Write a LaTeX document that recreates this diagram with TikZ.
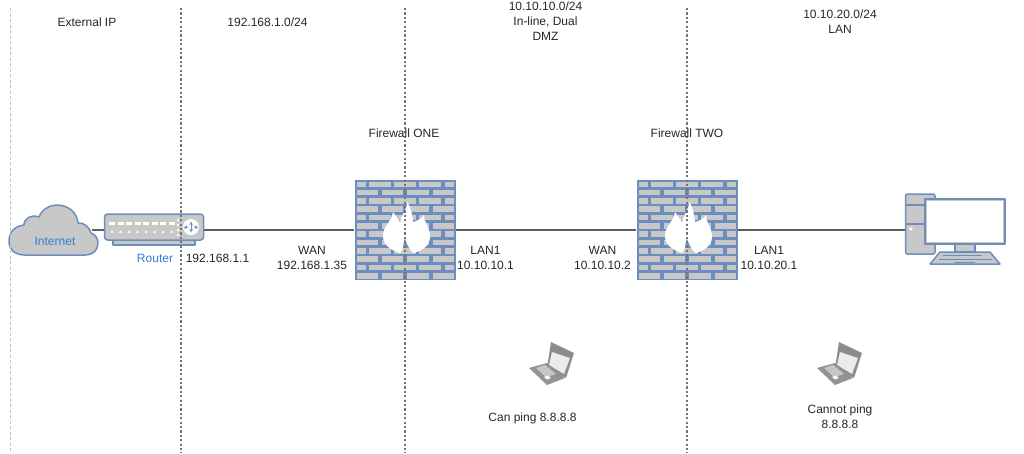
\documentclass[tikz,border=0pt]{standalone}
\usepackage{fontspec}
\setmainfont{Liberation Sans}
\definecolor{devblue}{HTML}{6C8EBF}
\definecolor{devgray}{HTML}{C8C8C8}
\definecolor{linkgray}{HTML}{5F5F5F}
\definecolor{labelblue}{HTML}{2F7FD6}
\tikzset{
  dev/.style={inner sep=0pt,outer sep=0pt},
  link/.style={draw=linkgray,line width=1.1pt},
  zone/.style={draw=black!55,line width=1.2pt,dash pattern=on 2.2pt off 2.2pt},
  label/.style={font=\fontsize{12}{15}\selectfont,align=center,text=black!85,inner sep=0pt},
  shell/.style={draw=devblue,fill=devgray,line width=1.5pt,line join=round},
  firewallpic/.pic={
    \fill[devblue] (-50,-50) rectangle (51,50);
    \foreach \r in {0,2,...,10} {
      \pgfmathsetmacro{\ya}{-48.5+\r*8.33}
      \foreach \xa/\xb in {-48/-39,-36/-14,-11/11,14/36,40/49}
        \fill[devgray] (\xa,\ya) rectangle (\xb,\ya+5.5);
      \pgfmathsetmacro{\yb}{\ya+8.33}
      \foreach \xa/\xb in {-48/-27,-23/-2,2/24,28/49}
        \fill[devgray] (\xa,\yb) rectangle (\xb,\yb+5.5);
    }
    \fill[white] (0,8) .. controls (-1,13) and (-1,18) .. (-4,23)
      .. controls (-15,20) and (-21.5,14) .. (-21.5,6)
      .. controls (-21.5,-4) and (-13,-8) .. (-11.5,-18)
      .. controls (-9,-14) and (-6,-11) .. (-4.5,-8)
      .. controls (-3,-15) and (2,-20) .. (3,-28)
      .. controls (7,-20) and (8,-14) .. (8.5,-8)
      .. controls (12,-9) and (17,-11) .. (19.5,-15)
      .. controls (19,-8) and (25.5,-3) .. (25.5,7)
      .. controls (25.5,15) and (18,21) .. (9,23)
      .. controls (3,18) and (3,13) .. (0,8) -- cycle;
  },
  laptoppic/.pic={
    \fill[gray!90] (0,-23) -- (23,-12) -- (15,13) -- (-4,3) -- cycle;
    \fill[black!8] (1,-13) -- (19,-7) -- (13,9) -- (-2,0) -- cycle;
    \fill[gray!85] (-22,3) -- (-4,-2) -- (14,13) -- (-4,20) -- cycle;
    \fill[gray!45] (-15,3) -- (-6,0) -- (5,9) -- (-5,12) -- cycle;
    \fill[white] (-7,12) -- (-3,10.5) -- (0,13) -- (-4,14.5) -- cycle;
  },
}
\begin{document}
\begin{tikzpicture}[x=1pt,y=-1pt]
  \useasboundingbox (0,0) rectangle (1024,453);
  % anchors of the devices
  \node[dev,minimum width=84,minimum height=50] (cloud) at (50,230) {};
  \node[dev,minimum width=100,minimum height=32] (router) at (154,230) {};
  \node[dev,minimum width=101,minimum height=100] (fwone) at (404.5,230) {};
  \node[dev,minimum width=101,minimum height=100] (fwtwo) at (686.5,230) {};
  \node[dev,minimum width=100,minimum height=72] (pc) at (955,230) {};
  % links
  \draw[link] (cloud) -- (router);
  \draw[link] (router) -- (fwone);
  \draw[link] (fwone) -- (fwtwo);
  \draw[link] (fwtwo) -- (pc);
  % cloud
  \draw[shell] (25,255) .. controls (14,255) and (9,249) .. (9,241)
    .. controls (9,232) and (15,226) .. (24,225)
    .. controls (24,218) and (32,214) .. (39,217)
    .. controls (42,209) and (50,205) .. (57,205)
    .. controls (68,205) and (77,212) .. (78,223)
    .. controls (84,222) and (90,228) .. (91,233)
    .. controls (96,235) and (98,239) .. (98,243)
    .. controls (98,250) and (93,255) .. (86,255) -- cycle;
  % router
  \draw[shell,line width=1.3pt] (113,240) rectangle (195,245);
  \draw[shell,rounded corners=3pt] (104.5,214) rectangle (203.5,240);
  \foreach \i in {0,...,7} {
    \fill[white] (109+\i*8.5,222) rectangle +(6,2.5);
    \fill[white] (112+\i*8.5,232) circle[radius=1.4];
  }
  \foreach \j in {220,225,...,235}
    \fill[white] (178,\j) circle[radius=1.4];
  \fill[white] (191,227) circle[radius=8];
  \draw[devblue,line width=.7pt,-stealth] (184,227) -- (188.5,227);
  \draw[devblue,line width=.7pt,-stealth] (198,227) -- (193.5,227);
  \draw[devblue,line width=.7pt,stealth-stealth] (191,221.5) -- (191,232.5);
  % walls
  \pic at (fwone) {firewallpic};
  \pic at (fwtwo) {firewallpic};
  % pc
  \draw[shell,rounded corners=2pt] (905.5,194) rectangle (935,254);
  \draw[devblue,line width=1.5pt] (905.5,205) -- (935,205) (905.5,224) -- (935,224);
  \fill[white] (911,229) circle[radius=1.8];
  \draw[shell] (955,244) rectangle (975,252);
  \draw[shell] (940,252) -- (990,252) -- (1000,264) -- (930,264) -- cycle;
  \draw[devblue,line width=1pt] (943,255.5) -- (982,255.5) (939,259) -- (992,259)
    (954,262) -- (975,262);
  \draw[shell,fill=white] (925,199) rectangle (1005,244);
  \draw[devgray,line width=1.2pt] (926.8,200.8) rectangle (1003.2,242.2);
  % laptops
  \pic (lapone) at (551,365) {laptoppic};
  \pic (laptwo) at (839,365) {laptoppic};
  % zones
  \coordinate (edgetop) at (10,8);
  \coordinate (edgebot) at (10,453);
  \draw[draw=black!25,line width=.8pt,dash pattern=on 3pt off 2.5pt] (edgetop) -- (edgebot);
  \foreach \x/\n in {181/a,405/b,687/c} {
    \coordinate (top\n) at (\x,8);
    \coordinate (bot\n) at (\x,453);
    \draw[zone] (top\n) -- (bot\n);
  }
  % labels
  \node[label] (extip) at (87,22.5) {External IP};
  \node[label] (netwan) at (267.5,22.5) {192.168.1.0/24};
  \node[label] (netdmz) at (545.5,21.5) {10.10.10.0/24\\In-line, Dual\\DMZ};
  \node[label] (netlan) at (840,22) {10.10.20.0/24\\LAN};
  \node[label] (nameone) at (404,133) {Firewall ONE};
  \node[label] (nametwo) at (687,133) {Firewall TWO};
  \node[label,text=labelblue] (inet) at (55,241) {Internet};
  \node[label,text=labelblue] (rname) at (155,258) {Router};
  \node[label] (rip) at (217.5,258) {192.168.1.1};
  \node[label] (onewan) at (312,257.5) {WAN\\192.168.1.35};
  \node[label] (onelan) at (485.5,257.5) {LAN1\\10.10.10.1};
  \node[label] (twowan) at (602.5,257.5) {WAN\\10.10.10.2};
  \node[label] (twolan) at (769,257.5) {LAN1\\10.10.20.1};
  \node[label] (canping) at (532.5,418) {Can ping 8.8.8.8};
  \node[label] (noping) at (840,417) {Cannot ping\\8.8.8.8};
\end{tikzpicture}
\end{document}
